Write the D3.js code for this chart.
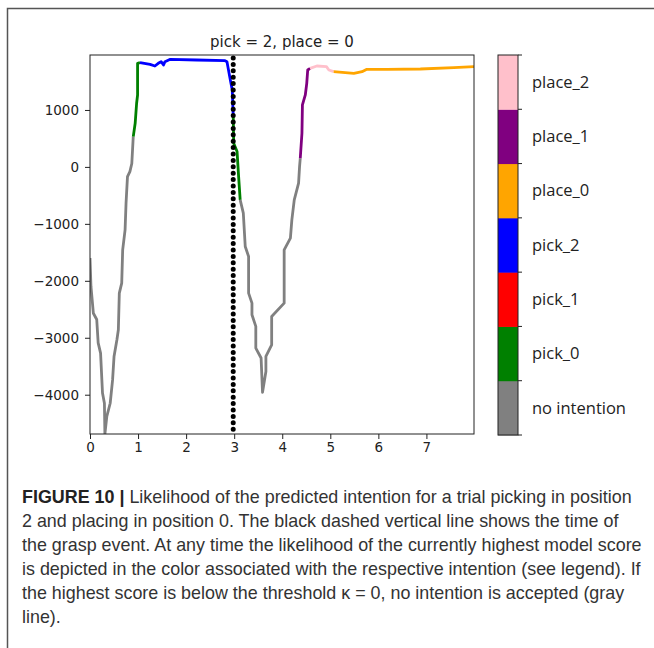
<!DOCTYPE html>
<html>
<head>
<meta charset="utf-8">
<script src="https://cdn.jsdelivr.net/npm/d3@7.9.0/dist/d3.min.js"></script>
<style>
  body { margin: 0; background: #fff; }
  svg { display: block; }
</style>
</head>
<body>
<svg id="fig" width="654" height="648"></svg>
<script>
// intentions, in colorbar order (bottom to top)
const intentions = ['no intention', 'pick_0', 'pick_1', 'pick_2', 'place_0', 'place_1', 'place_2'];
const intentionColors = ['#808080', '#008000', '#ff0000', '#0000ff', '#ffa500', '#800080', '#ffc0cb'];

// trace: time (s), likelihood, winning intention
const times = [
  0, 0.02, 0.07, 0.14, 0.17, 0.22, 0.26, 0.30, 0.31, 0.35, 0.42, 0.47, 0.50, 0.56, 0.59, 0.61, 0.66, 0.68, 0.73, 0.75, 0.78, 0.83, 0.87,
  0.90, 0.94, 0.97, 0.99, 0.99,
  1.04, 1.25, 1.35, 1.42, 1.48, 1.53, 1.56, 1.67, 2.22, 2.81, 2.85, 2.92, 2.96,
  2.98, 2.99, 3.06, 3.09,
  3.125, 3.19, 3.23, 3.30, 3.30, 3.37, 3.37, 3.45, 3.45, 3.56, 3.59, 3.66, 3.66, 3.78, 3.78, 4.04, 4.04, 4.17, 4.20, 4.25, 4.34, 4.36,
  4.375, 4.41, 4.42, 4.48, 4.51, 4.53,
  4.58, 4.72, 4.92, 4.97,
  5.07, 5.49, 5.66, 5.76, 6.18, 6.875, 7.57, 7.99
];
const scores = [
  -1600, -2100, -2570, -2680, -3090, -3270, -3970, -4150, -4690, -4380, -4150, -3740, -3330, -3035, -2860, -2215, -2040, -1456, -1105, -637, -170, -82, 60,
  532, 766, 1118, 1263, 1819,
  1830, 1800, 1772, 1819, 1848, 1789, 1848, 1889, 1877, 1865, 1848, 1526, 1351,
  900, 416, 269, -140,
  -579, -812, -1398, -1573, -2216, -2392, -2596, -2801, -3181, -3356, -3959, -3591, -3328, -3123, -2626, -2392, -1456, -1251, -930, -579, -286, 0,
  152, 591, 1088, 1263, 1468, 1702,
  1731, 1772, 1760, 1702,
  1672, 1643, 1672, 1714, 1714, 1719, 1742, 1760
];
const owners = [
  ...Array(23).fill('no intention'),
  ...Array(5).fill('pick_0'),
  ...Array(13).fill('pick_2'),
  ...Array(4).fill('pick_0'),
  ...Array(22).fill('no intention'),
  ...Array(6).fill('place_1'),
  ...Array(4).fill('place_2'),
  ...Array(8).fill('place_0')
];
const graspTime = 2.98;
const xTicks = [0, 1, 2, 3, 4, 5, 6, 7];
const yTicks = [-4000, -3000, -2000, -1000, 0, 1000];
const title = 'pick = 2, place = 0';

const svg = d3.select('#fig');

// outer figure frame
svg.append('path')
   .attr('d', 'M7.5,648 V8.5 H654')
   .attr('fill', 'none')
   .attr('stroke', '#555')
   .attr('stroke-width', 1.5);

const plot = { left: 90, top: 55, right: 474, bottom: 434 };

const x = d3.scaleLinear().domain([0, 7.99]).range([plot.left, plot.right]);
const y = d3.scaleLinear().domain([-4690, 1965]).range([plot.bottom, plot.top]);
const color = d3.scaleOrdinal().domain(intentions).range(intentionColors);

svg.append('clipPath').attr('id', 'clip')
   .append('rect')
   .attr('x', plot.left).attr('y', plot.top)
   .attr('width', plot.right - plot.left).attr('height', plot.bottom - plot.top);

// group consecutive points with the same intention into runs
let points = times.map((t, i) => ({ t, s: scores[i], who: owners[i] }));
let runs = [];
points.forEach((p, i) => {
  if (i === 0 || p.who !== points[i - 1].who) {
    if (runs.length) runs[runs.length - 1].pts.push(p);
    runs.push({ who: p.who, pts: [p] });
  } else {
    runs[runs.length - 1].pts.push(p);
  }
});

let line = d3.line().x((d) => x(d.t)).y((d) => y(d.s));

svg.append('g').attr('clip-path', 'url(#clip)')
   .selectAll('path')
   .data(runs)
   .join('path')
   .attr('d', (d) => line(d.pts))
   .attr('fill', 'none')
   .attr('stroke', (d) => color(d.who))
   .attr('stroke-width', 2.8)
   .attr('stroke-linejoin', 'round');

// grasp event
svg.append('line')
   .attr('x1', x(graspTime)).attr('x2', x(graspTime))
   .attr('y1', plot.top + 3).attr('y2', plot.bottom)
   .attr('stroke', '#000')
   .attr('stroke-width', 5)
   .attr('stroke-linecap', 'round')
   .attr('stroke-dasharray', '0 6.4');

// axes
function styleTicks(g) {
  g.attr('font-size', 13.5).attr('font-family', 'DejaVu Sans, sans-serif');
  g.select('.domain').remove();
  g.selectAll('.tick line').attr('stroke', '#222');
  g.selectAll('.tick text').attr('fill', '#222');
}

svg.append('g')
   .attr('transform', `translate(0,${plot.bottom})`)
   .call(d3.axisBottom(x).tickValues(xTicks).tickSize(5).tickPadding(3).tickFormat(d3.format('d')))
   .call(styleTicks);

svg.append('g')
   .attr('transform', `translate(${plot.left},0)`)
   .call(d3.axisLeft(y).tickValues(yTicks).tickSize(5).tickPadding(6)
     .tickFormat((d) => (d < 0 ? '\u2212' + Math.abs(d) : d)))
   .call(styleTicks);

svg.append('rect')
   .attr('x', plot.left).attr('y', plot.top)
   .attr('width', plot.right - plot.left).attr('height', plot.bottom - plot.top)
   .attr('fill', 'none')
   .attr('stroke', '#222')
   .attr('stroke-width', 1);

svg.append('text')
   .attr('x', (plot.left + plot.right) / 2)
   .attr('y', 47)
   .attr('text-anchor', 'middle')
   .attr('font-family', 'DejaVu Sans, sans-serif')
   .attr('font-size', 15)
   .attr('fill', '#222')
   .text(title);

// colorbar legend
const bar = { left: 498, right: 518, top: 55, bottom: 435 };
const band = d3.scaleBand().domain(intentions).range([bar.bottom, bar.top]);
const bandTop = (d) => Math.min(band(d), band(d) + band.bandwidth());

const legend = svg.append('g');
legend.selectAll('rect')
   .data(intentions)
   .join('rect')
   .attr('x', bar.left)
   .attr('y', bandTop)
   .attr('width', bar.right - bar.left)
   .attr('height', band.bandwidth() + 0.5)
   .attr('fill', (d) => color(d));

legend.append('rect')
   .attr('x', bar.left).attr('y', bar.top)
   .attr('width', bar.right - bar.left).attr('height', bar.bottom - bar.top)
   .attr('fill', 'none').attr('stroke', '#222').attr('stroke-width', 1);

let edges = d3.range(intentions.length + 1).map((i) => bar.bottom - i * band.bandwidth());
legend.selectAll('line.tk')
   .data(edges)
   .join('line')
   .attr('class', 'tk')
   .attr('x1', bar.right).attr('x2', bar.right + 4)
   .attr('y1', (d) => d).attr('y2', (d) => d)
   .attr('stroke', '#222');

legend.selectAll('text')
   .data(intentions)
   .join('text')
   .attr('x', 532)
   .attr('y', (d) => bandTop(d) + band.bandwidth() / 2)
   .attr('dy', '0.35em')
   .attr('font-family', 'Open Sans, sans-serif')
   .attr('font-size', 16.5)
   .attr('fill', '#222')
   .text((d) => d);

// caption
const captionLines = [
  ['FIGURE 10 | ', 'Likelihood of the predicted intention for a trial picking in position'],
  ['', '2 and placing in position 0. The black dashed vertical line shows the time of'],
  ['', 'the grasp event. At any time the likelihood of the currently highest model score'],
  ['', 'is depicted in the color associated with the respective intention (see legend). If'],
  ['', 'the highest score is below the threshold \u03BA = 0, no intention is accepted (gray'],
  ['', 'line).']
];

const cap = svg.append('g')
   .attr('font-family', 'Liberation Sans, Arial, sans-serif')
   .attr('fill', '#333');

let capText = cap.selectAll('text')
   .data(captionLines)
   .join('text')
   .attr('x', 22)
   .attr('y', (d, i) => 503 + i * 24)
   .attr('font-size', 16);

capText.append('tspan')
   .attr('font-weight', 'bold')
   .attr('fill', '#222')
   .text((d) => d[0]);
capText.append('tspan')
   .text((d) => d[1]);

// fit the first line to the measured width of the reference
let w = capText.node().getComputedTextLength();
capText.attr('font-size', 16 * 610 / w);
</script>
</body>
</html>
